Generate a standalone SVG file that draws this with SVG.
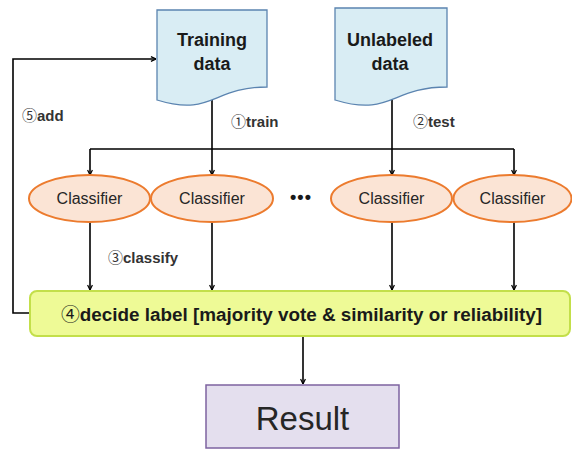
<svg xmlns="http://www.w3.org/2000/svg" width="572" height="450" viewBox="0 0 572 450">
<style>
.doc{fill:#d9edf4;stroke:#5b84b0;stroke-width:1.3}
.ell{fill:#fbe4d5;stroke:#ec7b2e;stroke-width:2}
.dec{fill:#eefa96;stroke:#c3df4a;stroke-width:2}
.res{fill:#e4dfee;stroke:#7d63a0;stroke-width:1.5}
.ln{fill:none;stroke:#000;stroke-width:1.6}
.arr{marker-end:url(#ah)}
.bt{font-family:"Liberation Sans","DejaVu Sans",sans-serif;font-weight:bold;fill:#1a1a1a}
.ct{font-family:"Liberation Sans","DejaVu Sans",sans-serif;font-size:16px;fill:#262626;text-anchor:middle}
.lb{font-family:"Liberation Sans","DejaVu Sans",sans-serif;font-weight:bold;font-size:15px;fill:#333}
.cd{font-family:"Noto Sans CJK JP","Noto Sans CJK SC",sans-serif;font-weight:normal}
</style>
<defs>
<marker id="ah" viewBox="0 0 10 10" refX="9.5" refY="5" markerWidth="6" markerHeight="6" orient="auto" markerUnits="userSpaceOnUse">
<path d="M1,1 L9.5,5 L1,9" fill="none" stroke="#000" stroke-width="2"/>
</marker>
</defs>
<g id="connectors">
<path class="ln" d="M212,99 V149 M392,99 V149 M90,149 H514"/>
<path class="ln arr" d="M90,149 V175"/>
<path class="ln arr" d="M212,149 V175"/>
<path class="ln arr" d="M392,149 V175"/>
<path class="ln arr" d="M514,149 V175"/>
<path class="ln arr" d="M90,222 V290"/>
<path class="ln arr" d="M212,222 V290"/>
<path class="ln arr" d="M392,222 V290"/>
<path class="ln arr" d="M514,222 V290"/>
<path class="ln arr" d="M303,336 V384"/>
<path class="ln arr" d="M30,313 H13 V59 H156"/>
<text class="lb" x="231" y="127"><tspan class="cd">①</tspan>train</text>
<text class="lb" x="413" y="127"><tspan class="cd">②</tspan>test</text>
<text class="lb" x="108" y="263"><tspan class="cd">③</tspan>classify</text>
<text class="lb" x="22" y="121"><tspan class="cd">⑤</tspan>add</text>
</g>
<g id="training">
<path class="doc" d="M157,10 H267 V87 C212,87 212,117 157,100 Z"/>
<text class="bt" font-size="18" x="212" y="46" text-anchor="middle">Training</text>
<text class="bt" font-size="18" x="212" y="70" text-anchor="middle">data</text>
</g>
<g id="unlabeled">
<path class="doc" d="M335,8 H447 V87 C391,87 391,117 335,100 Z"/>
<text class="bt" font-size="18" x="390" y="46" text-anchor="middle">Unlabeled</text>
<text class="bt" font-size="18" x="390" y="70" text-anchor="middle">data</text>
</g>
<g id="classifier1">
<ellipse class="ell" cx="89.5" cy="198.5" rx="60.5" ry="23.5"/>
<text class="ct" x="89.5" y="204">Classifier</text>
</g>
<g id="classifier2">
<ellipse class="ell" cx="212" cy="198.5" rx="61" ry="23.5"/>
<text class="ct" x="212" y="204">Classifier</text>
</g>
<g id="dots">
<text class="bt" font-size="18" x="301" y="203" text-anchor="middle" letter-spacing="1">•••</text>
</g>
<g id="classifier3">
<ellipse class="ell" cx="391.5" cy="198.5" rx="60.5" ry="23.5"/>
<text class="ct" x="391.5" y="204">Classifier</text>
</g>
<g id="classifier4">
<ellipse class="ell" cx="512.5" cy="198.5" rx="59" ry="23.5"/>
<text class="ct" x="512.5" y="204">Classifier</text>
</g>
<g id="decide">
<rect class="dec" x="30" y="291" width="540" height="45" rx="7"/>
<text class="bt" font-size="18" x="61" y="321" textLength="481" lengthAdjust="spacingAndGlyphs"><tspan class="cd">④</tspan>decide label [majority vote &amp; similarity or reliability]</text>
</g>
<g id="result">
<rect class="res" x="206" y="385" width="193" height="63"/>
<text x="302.5" y="430" text-anchor="middle" font-family="Liberation Sans, DejaVu Sans, sans-serif" font-size="33" fill="#262626">Result</text>
</g>
</svg>
